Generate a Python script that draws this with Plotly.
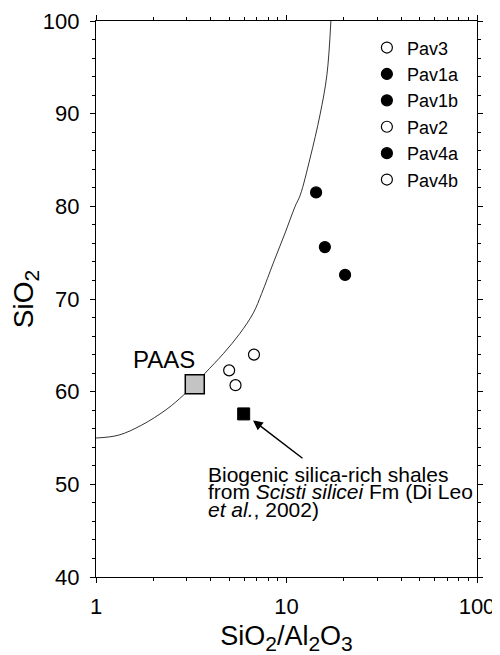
import plotly.graph_objects as go

# ---- data ----
series_names = ["Pav3", "Pav1a", "Pav1b", "Pav2", "Pav4a", "Pav4b"]
series_ratio = [6.75, 14.3, 15.9, 5.0, 20.3, 5.4]
series_sio2 = [64.0, 81.5, 75.6, 62.3, 72.6, 60.7]
series_filled = [False, True, True, False, True, False]

paas_ratio = [3.3]
paas_sio2 = [60.8]

biogenic_ratio = [5.96]
biogenic_sio2 = [57.6]

curve_ratio = [1.0, 1.31, 1.74, 2.35, 2.87, 3.3, 3.74, 4.66, 5.70, 6.70, 7.41, 8.53,
               9.82, 11.1, 11.8, 13.3, 15.0, 16.3, 17.1]
curve_sio2 = [55.0, 55.3, 56.4, 58.1, 59.6, 60.8, 62.0, 64.1, 66.3, 68.5, 70.6, 73.9,
              77.1, 80.0, 81.2, 85.2, 89.9, 94.2, 100.0]

x_ticks = [1, 10, 100]
x_minor = [2, 3, 4, 5, 6, 7, 8, 9, 20, 30, 40, 50, 60, 70, 80, 90]

note_lines = ["Biogenic silica-rich shales",
              "from <i>Scisti silicei</i> Fm (Di Leo",
              "<i>et al.</i>, 2002)"]
note_y = [51.1, 49.2, 47.3]

FONT = "Liberation Sans, Arial, sans-serif"

fig = go.Figure()

fig.add_trace(go.Scatter(x=curve_ratio, y=curve_sio2, mode="lines",
                         line=dict(color="black", width=0.8, shape="spline"),
                         showlegend=False, hoverinfo="skip"))

for n, xr, ys, f in zip(series_names, series_ratio, series_sio2, series_filled):
    fig.add_trace(go.Scatter(
        x=[xr], y=[ys], mode="markers", name=n,
        marker=dict(symbol="circle", size=11,
                    color="black" if f else "white",
                    line=dict(color="black", width=1.2))))

fig.add_trace(go.Scatter(x=paas_ratio, y=paas_sio2, mode="markers", showlegend=False,
                         marker=dict(symbol="square", size=19, color="#c4c4c4",
                                     line=dict(color="black", width=1.5))))
fig.add_trace(go.Scatter(x=biogenic_ratio, y=biogenic_sio2, mode="markers", showlegend=False,
                         marker=dict(symbol="square", size=12, color="black",
                                     line=dict(color="black", width=1))))

fig.add_annotation(x=0.53, y=61.8, xref="x", yref="y", text="PAAS", showarrow=False,
                   xanchor="right", yanchor="bottom", font=dict(size=24, family=FONT, color="black"))

# arrow
fig.add_annotation(x=0.824, y=56.9, xref="x", yref="y", text="", showarrow=True,
                   ax=51, ay=39, arrowhead=2, arrowsize=1.3, arrowwidth=1.5, arrowcolor="black")

for line, yy in zip(note_lines, note_y):
    fig.add_annotation(x=0.58, y=yy, xref="x", yref="y", text=line,
                       showarrow=False, xanchor="left", yanchor="middle", align="left",
                       font=dict(size=21, family=FONT, color="black"))

SUB = "<sub><span style='font-size:21px'>%s</span></sub>"

fig.update_xaxes(type="log", range=[0, 2], tickvals=x_ticks, ticktext=["1", "10", "100"],
                 ticks="outside", ticklen=5, tickwidth=1.2, tickcolor="black",
                 ticklabelstandoff=4, automargin=False,
                 minor=dict(tickvals=x_minor, ticks="outside", ticklen=3, tickwidth=1, tickcolor="black"),
                 showline=True, linecolor="black", linewidth=1.2, mirror="allticks",
                 showgrid=False, zeroline=False,
                 tickfont=dict(size=22, family=FONT, color="black"),
                 title=dict(text="SiO" + SUB % "2" + "/Al" + SUB % "2" + "O" + SUB % "3",
                            font=dict(size=27, family=FONT, color="black"), standoff=12))
fig.update_yaxes(range=[40, 100], dtick=10, tick0=40,
                 ticks="outside", ticklen=5, tickwidth=1.2, tickcolor="black",
                 ticklabelstandoff=6, automargin=False,
                 minor=dict(dtick=2, ticks="outside", ticklen=3, tickwidth=1, tickcolor="black"),
                 showline=True, linecolor="black", linewidth=1.2, mirror="allticks",
                 showgrid=False, zeroline=False,
                 tickfont=dict(size=22, family=FONT, color="black"),
                 title=dict(text="SiO" + SUB % "2",
                            font=dict(size=28, family=FONT, color="black"), standoff=15))

# page has an 8px body margin, so the figure is 8px smaller than the window
fig.update_layout(width=492, height=647, margin=dict(l=88, r=23, t=13, b=78, autoexpand=False),
                  paper_bgcolor="white", plot_bgcolor="white",
                  legend=dict(x=0.711, y=0.985, xanchor="left", yanchor="top",
                              bgcolor="rgba(0,0,0,0)", font=dict(size=18, family=FONT, color="black"),
                              itemwidth=30, tracegroupgap=0),
                  font=dict(family=FONT))

fig.write_html("out.html")
